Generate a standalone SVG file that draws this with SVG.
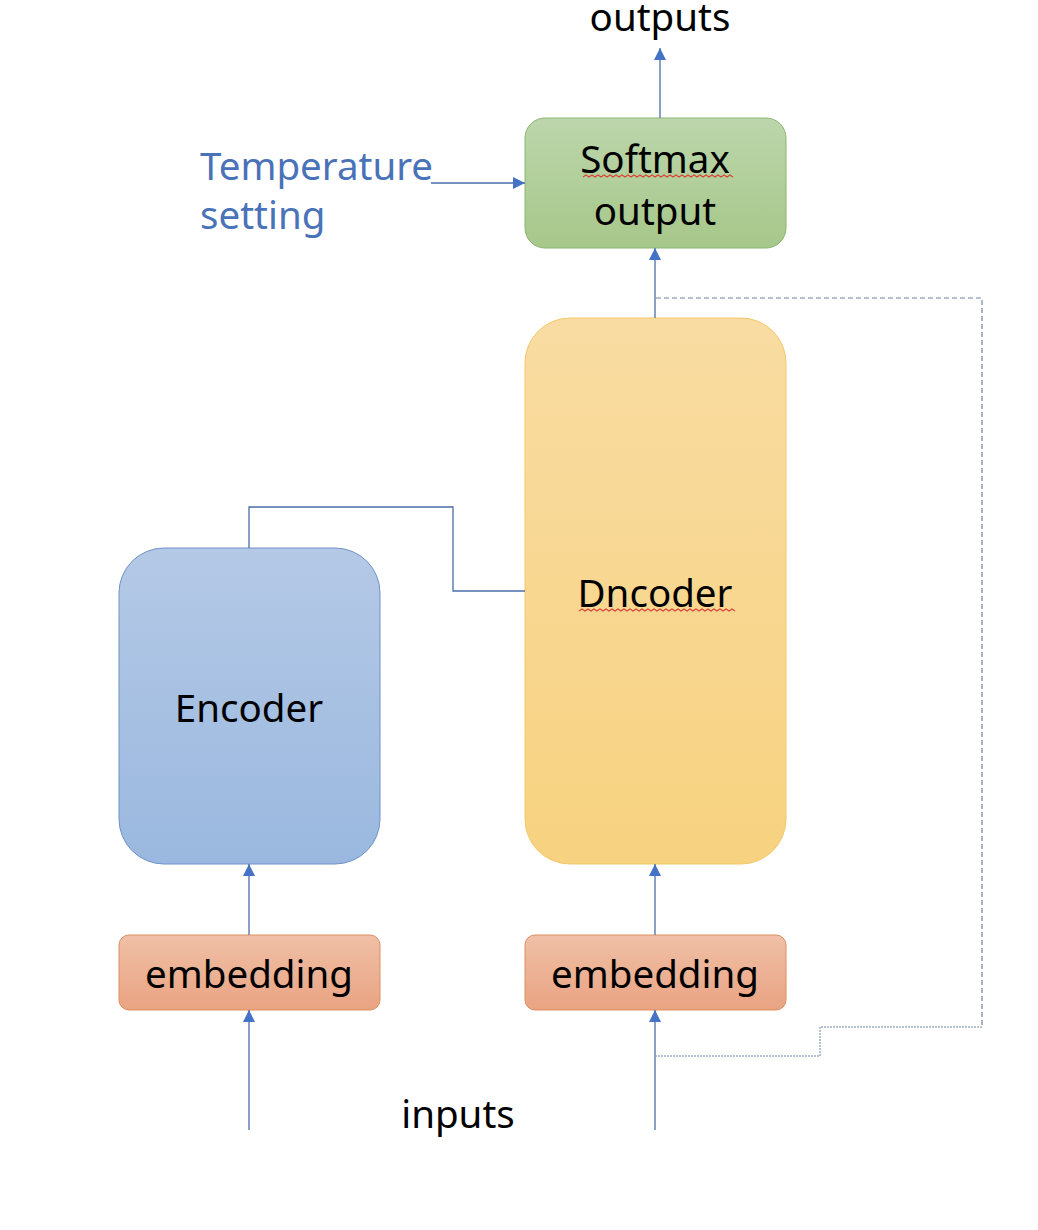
<svg xmlns="http://www.w3.org/2000/svg" width="1038" height="1230" viewBox="0 0 1038 1230">
<style>
text{font-family:"Noto Sans","Open Sans","DejaVu Sans",sans-serif;font-size:38.5px;fill:#000;text-anchor:middle}
.blue{fill:#4a72b8;text-anchor:start}
.ln{fill:none;stroke:#4a6ea8;stroke-width:1.3}
.dash{fill:none;stroke:#6f86a8;stroke-width:1.2;stroke-dasharray:5 3}
.dot{fill:none;stroke:#6f86a8;stroke-width:1;stroke-dasharray:2 1}
.sq{fill:none;stroke:#d9443a;stroke-width:1.2}
</style>
<defs>
<linearGradient id="gG" x1="0" y1="0" x2="0" y2="1"><stop offset="0" stop-color="#bcd6ab"/><stop offset="1" stop-color="#a6c78a"/></linearGradient>
<linearGradient id="gY" x1="0" y1="0" x2="0" y2="1"><stop offset="0" stop-color="#f9dca2"/><stop offset="1" stop-color="#f7d280"/></linearGradient>
<linearGradient id="gB" x1="0" y1="0" x2="0" y2="1"><stop offset="0" stop-color="#b4c9e6"/><stop offset="1" stop-color="#9ab8df"/></linearGradient>
<linearGradient id="gO" x1="0" y1="0" x2="0" y2="1"><stop offset="0" stop-color="#f0c0a6"/><stop offset="1" stop-color="#e9a382"/></linearGradient>
<marker id="ah" markerWidth="12" markerHeight="12" viewBox="0 0 12 12" refX="12" refY="6" orient="auto" markerUnits="userSpaceOnUse"><path d="M0,0 L12,6 L0,12 Z" fill="#4472c4"/></marker>
</defs>

<g id="softmax">
<rect x="525" y="118" width="261" height="130" rx="20" fill="url(#gG)" stroke="#8db673" stroke-width="1"/>
<text x="655" y="173">Softmax</text>
<path class="sq" d="M583,177 l3,-2 l3,2 l3,-2 l3,2 l3,-2 l3,2 l3,-2 l3,2 l3,-2 l3,2 l3,-2 l3,2 l3,-2 l3,2 l3,-2 l3,2 l3,-2 l3,2 l3,-2 l3,2 l3,-2 l3,2 l3,-2 l3,2 l3,-2 l3,2 l3,-2 l3,2 l3,-2 l3,2 l3,-2 l3,2 l3,-2 l3,2 l3,-2 l3,2 l3,-2 l3,2 l3,-2 l3,2 l3,-2 l3,2 l3,-2 l3,2 l3,-2 l3,2 l3,-2 l3,2 l3,-2 l3,2"/>
<text x="655" y="225">output</text>
</g>

<g id="decoder">
<rect x="525" y="318" width="261" height="546" rx="45" fill="url(#gY)" stroke="#f2c869" stroke-width="1"/>
<text x="655" y="607">Dncoder</text>
<path class="sq" d="M579,611 l3,-2 l3,2 l3,-2 l3,2 l3,-2 l3,2 l3,-2 l3,2 l3,-2 l3,2 l3,-2 l3,2 l3,-2 l3,2 l3,-2 l3,2 l3,-2 l3,2 l3,-2 l3,2 l3,-2 l3,2 l3,-2 l3,2 l3,-2 l3,2 l3,-2 l3,2 l3,-2 l3,2 l3,-2 l3,2 l3,-2 l3,2 l3,-2 l3,2 l3,-2 l3,2 l3,-2 l3,2 l3,-2 l3,2 l3,-2 l3,2 l3,-2 l3,2 l3,-2 l3,2 l3,-2 l3,2 l3,-2 l3,2"/>
</g>

<g id="encoder">
<rect x="119" y="548" width="261" height="316" rx="45" fill="url(#gB)" stroke="#6f92c6" stroke-width="1"/>
<text x="249" y="722">Encoder</text>
</g>

<g id="embedding-left">
<rect x="119" y="935" width="261" height="75" rx="10" fill="url(#gO)" stroke="#dc8f63" stroke-width="1"/>
<text x="249" y="988">embedding</text>
</g>

<g id="embedding-right">
<rect x="525" y="935" width="261" height="75" rx="10" fill="url(#gO)" stroke="#dc8f63" stroke-width="1"/>
<text x="655" y="988">embedding</text>
</g>

<g id="labels">
<text x="660" y="31">outputs</text>
<text class="blue" x="200" y="180">Temperature</text>
<text class="blue" x="200" y="229">setting</text>
<text x="458" y="1128">inputs</text>
</g>

<g id="connectors">
<line class="ln" x1="660" y1="118" x2="660" y2="48" marker-end="url(#ah)"/>
<line class="ln" x1="431" y1="183" x2="525" y2="183" marker-end="url(#ah)"/>
<line class="ln" x1="655" y1="318" x2="655" y2="248" marker-end="url(#ah)"/>
<polyline class="ln" points="249,548 249,507 453,507 453,591 525,591"/>
<line class="ln" x1="249" y1="935" x2="249" y2="864" marker-end="url(#ah)"/>
<line class="ln" x1="655" y1="935" x2="655" y2="864" marker-end="url(#ah)"/>
<line class="ln" x1="249" y1="1130" x2="249" y2="1010" marker-end="url(#ah)"/>
<line class="ln" x1="655" y1="1130" x2="655" y2="1010" marker-end="url(#ah)"/>
<polyline class="dash" points="656,298 982,298 982,1027"/>
<polyline class="dot" points="982,1027 820,1027 820,1056 656,1056"/>
</g>
</svg>
